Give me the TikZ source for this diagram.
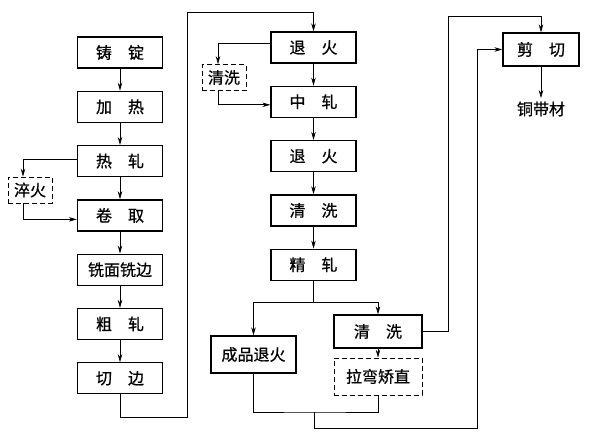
\documentclass[tikz,border=0pt]{standalone}
\usepackage{fontspec}
\newfontfamily\cjk{Noto Sans CJK SC}[FakeBold=0.8]
\usetikzlibrary{positioning,arrows.meta}
\tikzset{
    every node/.style={font=\cjk\fontsize{16}{18}\selectfont},
    proc/.style={rectangle,draw,line width=1.3pt,minimum width=85pt,minimum height=31pt,inner sep=3pt},
    opt/.style={rectangle,draw,dash pattern=on 5pt off 3pt,line width=0.7pt,minimum width=44pt,minimum height=26pt,inner sep=2pt},
    link/.style={draw,-{Stealth[length=8pt,width=4.5pt]},line width=0.7pt},
    wire/.style={draw,line width=0.7pt}
}
\begin{document}
\begin{tikzpicture}[x=1pt,y=-1pt,node distance=22pt]
    \useasboundingbox (0,0) rectangle (595,434);
    % left column
    \node[proc] (ingot) at (120,52.5) {铸\quad 锭};
    \node[proc,below=of ingot] (heat) {加\quad 热};
    \node[proc,below=of heat] (hotroll) {热\quad 轧};
    \node[proc,below=of hotroll] (coil) {卷\quad 取};
    \node[proc,below=of coil] (mill) {铣面铣边};
    \node[proc,below=of mill] (rough) {粗\quad 轧};
    \node[proc,below=of rough] (trim) {切\quad 边};
    \node[opt] (quench) at (30,190) {淬火};
    % middle column
    \node[proc] (anneal1) at (313.5,47.5) {退\quad 火};
    \node[proc,below=of anneal1] (midroll) {中\quad 轧};
    \node[proc,below=of midroll] (anneal2) {退\quad 火};
    \node[proc,below=of anneal2] (clean2) {清\quad 洗};
    \node[proc,below=of clean2] (finroll) {精\quad 轧};
    \node[opt] (clean1) at (224,77.5) {清洗};
    % finishing
    \node[proc,minimum height=37pt] (prodanneal) at (253.5,354.5) {成品退火};
    \node[proc,minimum width=88pt,minimum height=33pt] (clean3) at (378,331.5) {清\quad 洗};
    \node[opt,minimum width=88pt,minimum height=37pt] (straight) at (378,376.5) {拉弯矫直};
    \node[proc,minimum width=76pt,minimum height=33pt] (shear) at (541,49.5) {剪\quad 切};
    \node (strip) at (541,109) {铜带材};
    \coordinate (upA) at (187,12);
    \coordinate (merge) at (314,412);
    \coordinate (upB) at (477,428);
    \coordinate (upC) at (448,16);

    \foreach \a/\b in {ingot/heat,heat/hotroll,hotroll/coil,coil/mill,mill/rough,rough/trim,
        anneal1/midroll,midroll/anneal2,anneal2/clean2,clean2/finroll,clean3/straight,shear/strip}
        \draw[link] (\a) -- (\b);
    % side branches
    \draw[link] ([yshift=2pt]hotroll.west) -| ([xshift=-7pt]quench.north);
    \draw[link] ([xshift=-7pt]quench.south) |- ([yshift=-4pt]coil.west);
    \draw[link] ([yshift=4pt]anneal1.west) -| ([xshift=-6pt]clean1.north);
    \draw[link] ([xshift=-6pt]clean1.south) |- ([yshift=-3pt]midroll.west);
    % main line
    \draw[link] (trim.south) -- ++(0,23) -| (upA) -| (anneal1.north);
    \draw[wire] (finroll.south) -- ++(0,21) coordinate (split);
    \draw[link] (split) -| (prodanneal.north);
    \draw[link] (split) -| (clean3.north);
    \draw[wire] (prodanneal.south) |- (merge) -| (straight.south);
    \draw[link] (merge) |- (upB) |- (shear.west);
    \draw[link] (clean3.east) -| (upC) -| (shear.north);
\end{tikzpicture}
\end{document}
